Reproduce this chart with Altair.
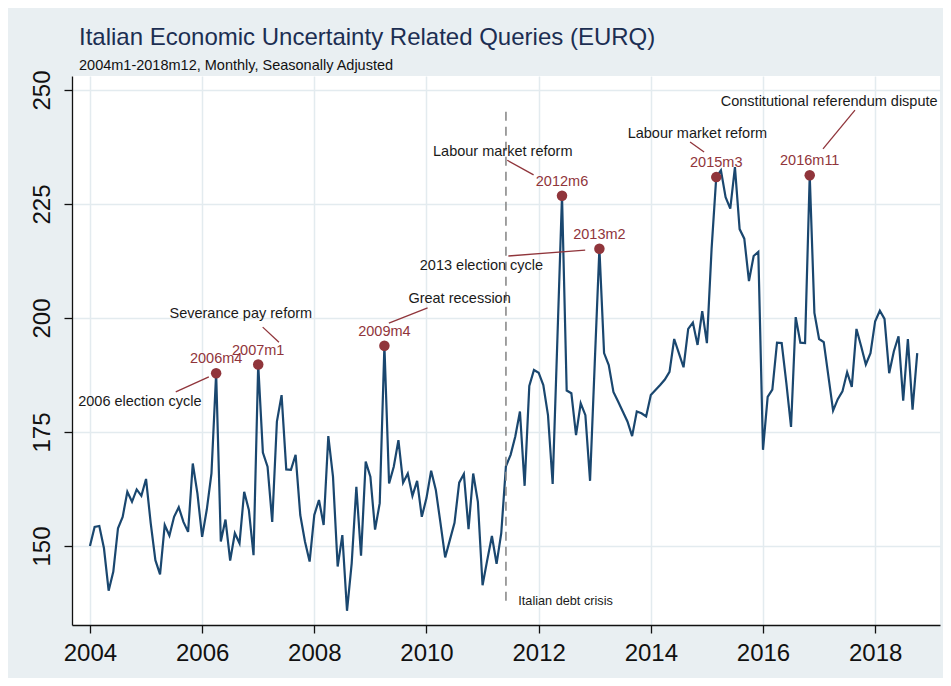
import altair as alt
import pandas as pd

# ---- monthly series, 2004m1 .. 2018m10 ----
v2004 = [150.0, 154.2, 154.4, 149.5, 140.2, 144.4, 153.9, 156.4, 161.9, 159.7, 162.4, 161.0]
v2005 = [164.7, 155.0, 146.9, 143.8, 154.6, 152.3, 156.4, 158.5, 155.3, 153.1, 168.1, 161.5]
v2006 = [152.0, 158.0, 165.9, 187.9, 151.0, 155.8, 146.8, 152.8, 150.6, 161.9, 157.9, 148.0]
v2007 = [189.8, 170.5, 167.4, 155.3, 177.3, 183.1, 166.8, 166.7, 170.0, 156.8, 151.0, 146.6]
v2008 = [156.8, 160.1, 154.6, 174.1, 165.2, 145.5, 152.4, 135.8, 146.2, 163.0, 147.9, 168.5]
v2009 = [165.2, 153.6, 159.4, 193.9, 163.7, 167.4, 173.2, 163.9, 165.9, 161.0, 164.3, 156.4]
v2010 = [160.5, 166.5, 162.3, 155.0, 147.5, 151.3, 155.1, 163.9, 165.8, 153.7, 165.9, 159.7]
v2011 = [141.4, 146.9, 152.2, 146.1, 152.8, 167.5, 170.0, 174.0, 179.5, 163.2, 185.1, 188.6]
v2012 = [188.0, 185.3, 178.7, 163.6, 195.0, 226.8, 184.1, 183.5, 174.3, 181.3, 178.7, 164.3]
v2013 = [190.0, 215.2, 192.3, 189.7, 183.8, 181.7, 179.5, 177.3, 174.1, 179.5, 179.1, 178.4]
v2014 = [183.1, 184.2, 185.3, 186.5, 188.2, 195.4, 192.3, 189.2, 197.6, 199.0, 194.1, 201.5]
v2015 = [194.5, 215.1, 230.9, 232.4, 226.5, 224.0, 233.1, 219.5, 217.4, 208.1, 213.6, 214.5]
v2016 = [171.1, 182.7, 184.3, 194.6, 194.5, 185.7, 176.1, 200.2, 194.6, 194.5, 231.3, 201.1]
v2017 = [195.4, 194.7, 187.2, 179.7, 182.2, 183.9, 188.1, 184.9, 197.6, 193.8, 189.8, 192.3]
v2018 = [199.3, 201.6, 199.8, 187.9, 192.7, 196.0, 181.9, 195.4, 179.9, 192.3]

values = (v2004 + v2005 + v2006 + v2007 + v2008 + v2009 + v2010 + v2011
          + v2012 + v2013 + v2014 + v2015 + v2016 + v2017 + v2018)
start_year = 2004

# ---- highlighted peaks ----
peak_labels = ["2006m4", "2007m1", "2009m4", "2012m6", "2013m2", "2015m3", "2016m11"]

# ---- event annotations (text, year, value) ----
event_text = ["2006 election cycle", "Severance pay reform", "Great recession",
              "Labour market reform", "2013 election cycle", "Labour market reform",
              "Constitutional referendum dispute"]
event_t = [2004.89, 2006.69, 2010.59, 2011.36, 2010.98, 2014.83, 2017.18]
event_v = [181.6, 200.9, 204.2, 236.4, 211.4, 240.4, 247.4]

# connector lines from event text to peak
conn_t1 = [2005.53, 2007.08, 2009.33, 2011.44, 2011.46, 2014.70, 2017.07]
conn_t2 = [2006.12, 2007.37, 2010.02, 2011.91, 2012.83, 2014.95, 2017.64]
conn_v1 = [183.8, 198.0, 198.9, 234.6, 213.6, 238.6, 237.1]
conn_v2 = [187.1, 194.7, 202.2, 231.4, 214.9, 236.4, 245.6]

# debt crisis marker
crisis_t = 2011.417
crisis_v = [138.0, 246.5]
crisis_text = "Italian debt crisis"
crisis_text_t = 2012.48
crisis_text_v = 137.9

x_ticks = [2004, 2006, 2008, 2010, 2012, 2014, 2016, 2018]
y_ticks = [150, 175, 200, 225, 250]


def parse(s):
    y, m = s.split("m")
    return int(y) + (int(m) - 1) / 12


df = pd.DataFrame({"t": [start_year + i / 12 for i in range(len(values))], "v": values})
peak_t = [parse(s) for s in peak_labels]
peak_v = [values[round((p - start_year) * 12)] for p in peak_t]
peaks = pd.DataFrame({"t": peak_t, "v": peak_v, "label": peak_labels})
events = pd.DataFrame({"t": event_t, "v": event_v, "text": event_text})
conns = pd.DataFrame({"t": conn_t1, "t2": conn_t2, "v": conn_v1, "v2": conn_v2})
crisis = pd.DataFrame({"t": [crisis_t], "v": [crisis_v[0]], "v2": [crisis_v[1]]})
crisis_lab = pd.DataFrame({"t": [crisis_text_t], "v": [crisis_text_v], "text": [crisis_text]})

FONT = "Liberation Sans"
NAVY = "#1a476f"
MAROON = "#90353b"
GRID = "#e3ebef"

xs = alt.Scale(domain=[2003.68, 2019.156], nice=False, zero=False)
ys = alt.Scale(domain=[132.68, 253.07], nice=False, zero=False)

x_axis = alt.Axis(values=x_ticks, format="d", title=None, labelFontSize=24, labelFont=FONT,
                  labelColor="#111", tickSize=8, tickColor="#111", tickWidth=1.3,
                  domainColor="#111", domainWidth=1.3, grid=True, gridColor=GRID,
                  gridWidth=1.5, labelPadding=8, labelFlush=False)
y_axis = alt.Axis(values=y_ticks, title=None, labelFontSize=24, labelFont=FONT,
                  labelColor="#111", labelAngle=270, labelAlign="center",
                  labelBaseline="bottom", tickSize=8, tickColor="#111", tickWidth=1.3,
                  domainColor="#111", domainWidth=1.3, grid=True, gridColor=GRID,
                  gridWidth=1.5, labelPadding=10, labelFlush=False)

base_line = alt.Chart(df).mark_line(color=NAVY, strokeWidth=2.2).encode(
    x=alt.X("t:Q", scale=xs, axis=x_axis),
    y=alt.Y("v:Q", scale=ys, axis=y_axis),
)

crisis_rule = alt.Chart(crisis).mark_rule(color="#8a8a8a", strokeWidth=1.6,
                                          strokeDash=[9, 6]).encode(
    x=alt.X("t:Q", scale=xs), y=alt.Y("v:Q", scale=ys), y2="v2:Q")

conn_rules = alt.Chart(conns).mark_rule(color=MAROON, strokeWidth=1.3).encode(
    x=alt.X("t:Q", scale=xs), x2="t2:Q", y=alt.Y("v:Q", scale=ys), y2="v2:Q")

peak_pts = alt.Chart(peaks).mark_circle(color=MAROON, size=110, opacity=1).encode(
    x=alt.X("t:Q", scale=xs), y=alt.Y("v:Q", scale=ys))

peak_txt = alt.Chart(peaks).mark_text(color=MAROON, fontSize=14.5, font=FONT, dy=-14,
                                      baseline="middle").encode(
    x=alt.X("t:Q", scale=xs), y=alt.Y("v:Q", scale=ys), text="label:N")

event_txt = alt.Chart(events).mark_text(color="#1a1a1a", fontSize=14.5, font=FONT,
                                        baseline="middle").encode(
    x=alt.X("t:Q", scale=xs), y=alt.Y("v:Q", scale=ys), text="text:N")

crisis_txt = alt.Chart(crisis_lab).mark_text(color="#1a1a1a", fontSize=12.7, font=FONT,
                                             baseline="middle").encode(
    x=alt.X("t:Q", scale=xs), y=alt.Y("v:Q", scale=ys), text="text:N")

chart = alt.layer(base_line, crisis_rule, conn_rules, peak_pts, peak_txt,
                  event_txt, crisis_txt).properties(
    width=868,
    height=549,
    autosize=alt.AutoSizeParams(type="none"),
    padding={"left": 64, "top": 68, "right": 3, "bottom": 53},
    background="#e9eff2",
    title=alt.TitleParams(
        text="Italian Economic Uncertainty Related Queries (EURQ)",
        subtitle="2004m1-2018m12, Monthly, Seasonally Adjusted",
        anchor="start", frame="group", dx=7, dy=3, offset=0,
        font=FONT, fontSize=24, fontWeight="normal", color="#1c2e52",
        subtitleFont=FONT, subtitleFontSize=14.5, subtitleColor="#111",
        subtitlePadding=9,
    ),
).configure_view(fill="white", stroke=None)

chart.save("out.html", embed_options={"renderer": "svg", "actions": False})
